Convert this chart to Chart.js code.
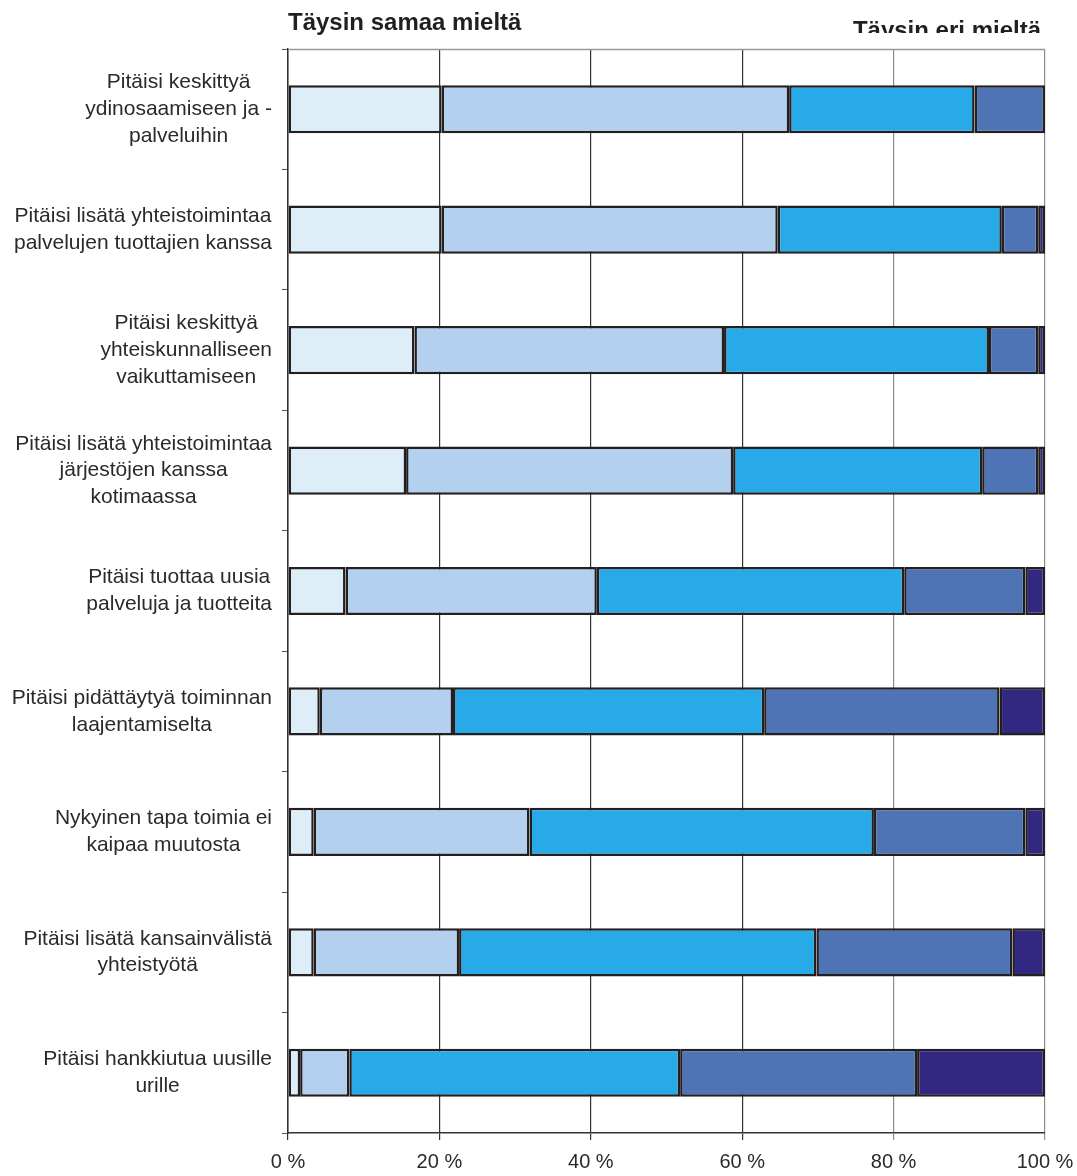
<!DOCTYPE html>
<html>
<head>
<meta charset="utf-8">
<script src="https://cdn.jsdelivr.net/npm/chart.js@4/dist/chart.umd.min.js"></script>
<style>
  body { margin: 0; background: #fff; }
  #wrap { width: 1077px; height: 1176px; }
</style>
</head>
<body>
<div id="wrap"><canvas id="myChart" width="1077" height="1176"></canvas></div>
<script>
// categories (top to bottom)
const labels = [
  ['Pitäisi keskittyä', 'ydinosaamiseen ja -', 'palveluihin'],
  ['Pitäisi lisätä yhteistoimintaa', 'palvelujen tuottajien kanssa'],
  ['Pitäisi keskittyä ', 'yhteiskunnalliseen', 'vaikuttamiseen'],
  ['Pitäisi lisätä yhteistoimintaa', 'järjestöjen kanssa', 'kotimaassa'],
  ['Pitäisi tuottaa uusia', 'palveluja ja tuotteita'],
  ['Pitäisi pidättäytyä toiminnan', 'laajentamiselta'],
  ['Nykyinen tapa toimia ei', 'kaipaa muutosta'],
  ['Pitäisi lisätä kansainvälistä', 'yhteistyötä'],
  ['Pitäisi hankkiutua uusille', 'urille']
]

// series, percent of answers
const taysinSamaa   = [20.3, 20.3, 16.7, 15.6,  7.6,  4.2,  3.4,  3.4,  1.6]
const jokseenSamaa  = [45.9, 44.4, 40.9, 43.2, 33.2, 17.6, 28.5, 19.2,  6.5]
const eiSamaaEiEri  = [24.5, 29.6, 35.0, 32.9, 40.6, 41.1, 45.5, 47.2, 43.7]
const jokseenEri    = [ 9.3,  4.8,  6.5,  7.4, 16.0, 31.1, 20.0, 25.9, 31.3]
const taysinEri     = [ 0.0,  0.9,  0.9,  0.9,  2.6,  6.0,  2.6,  4.3, 16.9]

const xTicks = [0, 20, 40, 60, 80, 100]
const headLeft = 'Täysin samaa mieltä'
const headRight = 'Täysin eri mieltä'

const FONT = '"Liberation Sans", Arial, sans-serif'
const INK = '#231f20'

function ds(label, values, color){
  return {
    label: label,
    data: values,
    backgroundColor: color,
    borderColor: INK,
    borderWidth: 2.5,
    borderSkipped: false,
    barPercentage: 0.4,
    categoryPercentage: 1
  }
}

// left labels: each block centred on itself, blocks right aligned
const labelPlugin = {
  id: 'blockLabels',
  afterDraw(chart){
    const ctx = chart.ctx
    const y = chart.scales.y
    const right = chart.chartArea.left - 16
    const lh = 26.7
    ctx.save()
    ctx.font = '21px ' + FONT
    ctx.fillStyle = '#2a2a2a'
    ctx.textAlign = 'center'
    ctx.textBaseline = 'middle'
    labels.forEach((lines, i) => {
      const cy = y.getPixelForValue(i)
      const w = Math.max(...lines.map(l => ctx.measureText(l.trim()).width))
      const cx = right - w / 2
      lines.forEach((l, k) => {
        ctx.fillText(l.trim(), cx, cy + (k - (lines.length - 1) / 2) * lh)
      })
    })
    ctx.restore()
  }
}

// headings and top border of the plot
const framePlugin = {
  id: 'frame',
  beforeDatasetsDraw(chart){
    const ctx = chart.ctx
    const a = chart.chartArea
    ctx.save()
    ctx.strokeStyle = '#999'
    ctx.lineWidth = 1.5
    ctx.beginPath()
    ctx.moveTo(a.left, a.top + 0.5)
    ctx.lineTo(a.right, a.top + 0.5)
    ctx.stroke()
    ctx.restore()
  },
  afterDraw(chart){
    const ctx = chart.ctx
    const a = chart.chartArea
    ctx.save()
    ctx.font = 'bold 24px ' + FONT
    ctx.fillStyle = INK
    ctx.textBaseline = 'alphabetic'
    ctx.textAlign = 'left'
    ctx.fillText(headLeft, a.left, 30)
    // the right heading is cut off at its bottom in the original
    ctx.beginPath()
    ctx.rect(a.left, 0, chart.width, 33)
    ctx.clip()
    ctx.textAlign = 'right'
    ctx.fillText(headRight, a.right - 4, 38)
    ctx.restore()
  }
}

const data = {
  labels: labels.map(l => l.join(' ')),
  datasets: [
    ds('Täysin samaa mieltä', taysinSamaa, '#ddeef8'),
    ds('Jokseenkin samaa mieltä', jokseenSamaa, '#b3d1ef'),
    ds('Ei samaa eikä eri mieltä', eiSamaaEiEri, '#29aae8'),
    ds('Jokseenkin eri mieltä', jokseenEri, '#4f74b5'),
    ds('Täysin eri mieltä', taysinEri, '#322881')
  ]
}

const config = {
  type: 'bar',
  data,
  options: {
    indexAxis: 'y',
    responsive: false,
    devicePixelRatio: 1,
    animation: false,
    layout: { padding: { top: 49, right: 32, left: 0, bottom: 0 } },
    plugins: { legend: { display: false }, tooltip: { enabled: false } },
    scales: {
      x: {
        stacked: true,
        min: 0,
        max: 100,
        afterBuildTicks: s => { s.ticks = xTicks.map(v => ({ value: v })) },
        afterFit: s => { s.height = 43; s.paddingLeft = 0; s.paddingRight = 0 },
        border: { display: true, color: '#333', width: 1.5 },
        grid: {
          color: c => (c.tick && c.tick.value >= 80) ? '#8c8c8c' : '#333',
          lineWidth: 1.2,
          tickLength: 7,
          drawTicks: true
        },
        ticks: {
          callback: v => v + ' %',
          font: { family: FONT, size: 20 },
          color: '#2a2a2a',
          padding: 10,
          maxRotation: 0
        }
      },
      y: {
        stacked: true,
        afterFit: s => { s.width = 288; s.paddingTop = 0; s.paddingBottom = 0 },
        border: { display: true, color: '#333', width: 1.5 },
        grid: {
          offset: true,
          drawOnChartArea: false,
          drawTicks: true,
          tickLength: 6,
          color: '#555'
        },
        ticks: { display: false }
      }
    }
  },
  plugins: [labelPlugin, framePlugin]
}

const myChart = new Chart(document.getElementById('myChart'), config)
</script>
</body>
</html>
